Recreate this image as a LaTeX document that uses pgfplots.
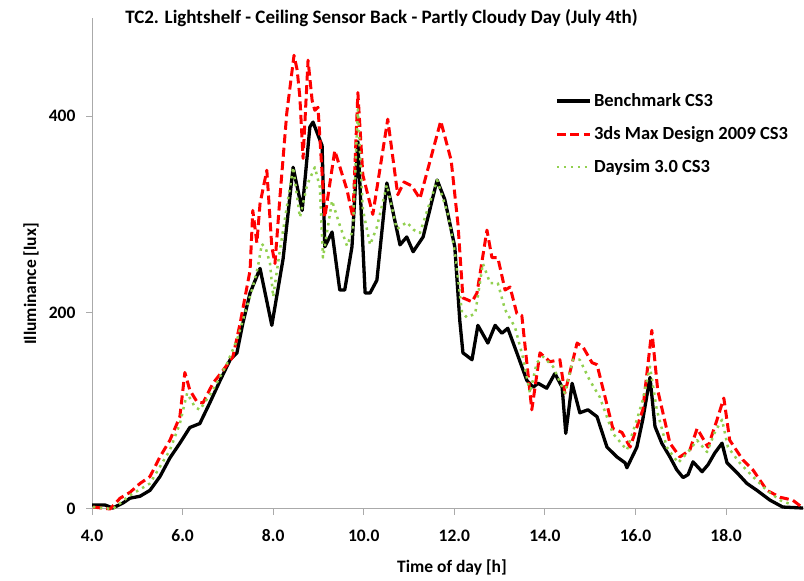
\documentclass[border=0pt]{standalone}
\usepackage{pgfplots}
\pgfplotsset{compat=1.18}
\usepackage{fontspec}
\setmainfont{Carlito}
\definecolor{dsgreen}{RGB}{146,208,80}
\definecolor{axgray}{RGB}{170,170,170}
\newcommand\T{\fontsize{17.5}{21}\selectfont\bfseries}
\newcommand\TL{\fontsize{18.5}{22}\selectfont\bfseries}
\newcommand\TT{\fontsize{19}{23}\selectfont\bfseries}
\begin{document}
\begin{tikzpicture}[x=1pt,y=1pt]
\useasboundingbox (0,0) rectangle (804,581);
\begin{axis}[
  at={(92pt,72pt)}, anchor=south west,
  scale only axis, width=712pt, height=491pt,
  xmin=4, xmax=19.72, ymin=0, ymax=500,
  axis lines=left, axis line style={-, draw=axgray, line width=1pt},
  tick align=outside, major tick length=6pt,
  tick style={axgray, line width=1pt},
  xtick={4,6,8,10,12,14,16,18},
  xticklabels={4.0,6.0,8.0,10.0,12.0,14.0,16.0,18.0},
  ytick={0,200,400}, yticklabels={0,200,400},
  tick label style={font=\T},
  xticklabel style={anchor=center, yshift=-21pt},
  yticklabel style={anchor=east, xshift=-7pt},
  legend style={at={(0.6503,0.851)}, anchor=north west, draw=none, fill=none,
    font=\TL, row sep=13.5pt, inner sep=0pt, nodes={inner sep=2.5pt}},
  legend cell align=left,
  legend image code/.code={\draw[#1] (0pt,0pt) -- (33pt,0pt);},
  clip=false,
]
\addplot[black, line width=3.3pt, line join=round] coordinates {
(4.00,4) (4.02,4) (4.29,4) (4.46,1) (4.68,6) (4.84,11) (5.06,13) (5.28,19) (5.50,33)
(5.72,52) (5.94,67) (6.16,83) (6.38,87) (6.60,108) (6.83,131) (7.05,152) (7.20,159)
(7.33,189) (7.49,220) (7.71,245) (7.97,187) (8.22,255) (8.44,348) (8.64,304) (8.81,389)
(8.88,394) (9.08,370) (9.14,267) (9.30,282) (9.47,223) (9.58,223) (9.74,267) (9.87,374)
(10.03,220) (10.14,220) (10.29,233) (10.51,332) (10.80,269) (10.95,277) (11.09,262)
(11.31,277) (11.62,335) (11.79,315) (12.01,267) (12.12,192) (12.19,159) (12.39,152)
(12.52,187) (12.74,169) (12.90,187) (13.05,179) (13.18,184) (13.38,159) (13.60,131)
(13.74,124) (13.85,128) (14.04,123) (14.22,138) (14.38,124) (14.46,77) (14.60,128)
(14.77,98) (14.95,101) (15.15,94) (15.37,63) (15.59,53) (15.77,47) (15.81,42) (16.03,63)
(16.16,91) (16.32,134) (16.43,84) (16.58,67) (16.76,53) (16.91,40) (17.05,32) (17.16,35)
(17.27,48) (17.47,38) (17.60,45) (17.75,57) (17.91,67) (18.02,47) (18.24,37) (18.46,26)
(18.68,19) (18.97,9) (19.25,2) (19.70,1)
};
\addlegendentry{Benchmark CS3}
\addplot[red, line width=3pt, dash pattern=on 9pt off 4.5pt, line join=round] coordinates {
(4.02,2) (4.40,0) (4.62,11) (4.84,17) (5.06,26) (5.28,33) (5.50,53) (5.72,70) (5.94,94)
(6.05,139) (6.16,121) (6.32,109) (6.45,108) (6.67,128) (6.89,141) (7.11,155) (7.27,189)
(7.49,243) (7.55,304) (7.64,271) (7.71,311) (7.86,345) (7.97,267) (8.04,250) (8.15,318)
(8.30,403) (8.46,462) (8.53,447) (8.59,419) (8.66,357) (8.77,457) (8.86,416) (8.92,406)
(8.99,409) (9.14,297) (9.36,365) (9.63,325) (9.76,297) (9.87,424) (9.98,340) (10.20,300)
(10.53,397) (10.75,320) (10.89,333) (11.06,329) (11.24,316) (11.70,395) (11.93,355)
(12.08,290) (12.19,215) (12.39,211) (12.50,220) (12.72,284) (12.83,256) (12.96,256)
(13.12,223) (13.23,226) (13.38,199) (13.49,197) (13.71,101) (13.89,159) (14.11,150)
(14.33,152) (14.44,118) (14.71,169) (14.84,165) (15.04,149) (15.15,147) (15.50,82)
(15.70,78) (15.88,63) (16.16,101) (16.36,182) (16.49,121) (16.76,67) (16.98,53) (17.20,60)
(17.36,82) (17.60,63) (17.80,91) (17.95,113) (18.08,70) (18.37,50) (18.59,40) (18.90,19)
(19.19,12) (19.47,9) (19.67,2)
};
\addlegendentry{3ds Max Design 2009 CS3}
\addplot[dsgreen, line width=2.5pt, dash pattern=on 2.5pt off 4.5pt, line join=round] coordinates {
(4.02,2) (4.46,0) (4.84,14) (5.28,26) (5.72,60) (5.94,87) (6.10,118) (6.27,104) (6.38,101)
(6.67,121) (6.98,148) (7.20,172) (7.42,206) (7.55,226) (7.66,246) (7.75,270) (7.84,265)
(7.93,250) (8.00,216) (8.15,264) (8.30,307) (8.44,348) (8.59,297) (8.75,330) (8.92,348)
(9.03,328) (9.10,256) (9.30,314) (9.47,289) (9.63,268) (9.76,284) (9.87,407) (9.98,305)
(10.14,269) (10.29,287) (10.51,330) (10.73,285) (10.95,292) (11.11,284) (11.24,281)
(11.62,335) (11.86,300) (12.01,262) (12.17,200) (12.28,195) (12.46,199) (12.63,250)
(12.79,230) (12.96,230) (13.12,203) (13.34,185) (13.51,155) (13.67,118) (13.82,149)
(13.96,155) (14.18,145) (14.44,118) (14.62,152) (14.77,152) (14.99,131) (15.21,114)
(15.50,77) (15.81,60) (16.03,91) (16.16,111) (16.32,145) (16.47,101) (16.69,63) (16.94,47)
(17.16,58) (17.36,70) (17.58,58) (17.75,78) (17.91,91) (18.04,63) (18.30,47) (18.59,33)
(18.90,19) (19.19,9) (19.47,4)
};
\addlegendentry{Daysim 3.0 CS3}
\end{axis}
\node[font=\TT] at (381.5,563) {TC2. Lightshelf - Ceiling Sensor Back - Partly Cloudy Day (July 4th)};
\node[font=\T, rotate=90] at (31,297) {Illuminance [lux]};
\node[font=\T] at (452,14) {Time of day [h]};
\end{tikzpicture}
\end{document}
